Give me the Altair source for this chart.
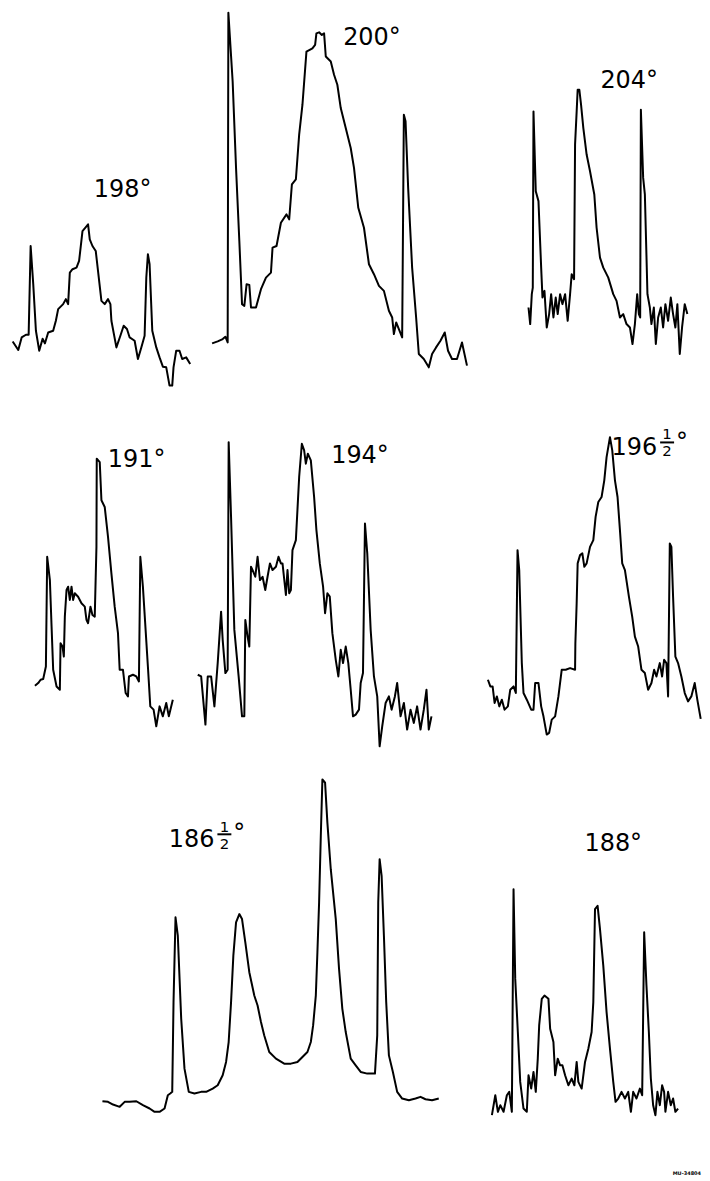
import altair as alt
import pandas as pd

# ---- traced spectra (image-pixel coordinates: x to the right, y downward) ----
T198_X = [12.7, 18.3, 21.7, 26, 28.7, 30.7, 33.3, 36, 39.3, 42.7, 45, 48.3, 53.3, 56, 58.3, 63.3, 66, 68.3, 70, 72.7, 76.7, 79.3, 82.7, 85, 88.3, 90, 92.7, 96, 101.7, 105, 108.3, 110.7, 111.7, 116.7, 120.7, 124, 127.3, 130, 135, 138.3, 141.7, 145, 146.7, 148.3, 150, 152.7, 156.7, 160, 163.3, 166.7, 170, 172.7, 174, 176.7, 180, 182.7, 186.7, 190.7]
T198_Y = [340.7, 349.3, 336.7, 334, 334, 245, 283, 330, 350, 338, 342.7, 331.7, 330, 320, 308.3, 303.3, 298.3, 303.3, 271.7, 268.3, 266.7, 260, 230, 227.3, 223.3, 238.3, 245, 250, 300, 303.3, 298.3, 303.3, 320, 346.7, 335, 325, 328.3, 336.7, 340, 358.3, 346.7, 335, 276.7, 253.3, 263.3, 330, 346.7, 356.7, 366, 366.7, 385, 385, 366.7, 350, 350, 358.3, 356.7, 363.3]

T200_X = [212.7, 218.3, 223.3, 226, 228.3, 229, 233.3, 236.7, 240, 242.7, 245, 247.3, 250, 251.7, 256.7, 261.7, 266.7, 271.7, 273.3, 277.3, 281.7, 287.3, 290, 292.7, 296.7, 300, 303.3, 307.3, 313.3, 316, 317.3, 320, 322.7, 325, 326.7, 331.7, 335, 338.3, 341.7, 346.7, 351.7, 355, 359.3, 365, 370, 375, 380, 385, 390, 393.3, 395, 397.3, 400, 403.3, 405, 406.7, 409.3, 413.3, 417.3, 420, 425, 430, 433.3, 437.3, 441.7, 446, 449.3, 453.3, 458.3, 463.3, 468.3]
T200_Y = [342.7, 340.7, 338.3, 336, 341.7, 11, 80, 166.7, 240, 303.3, 305, 283.3, 284, 306.7, 306.7, 288.3, 276.7, 271.7, 246.7, 245, 221.7, 213.3, 218.3, 183.3, 178.3, 133.3, 103.3, 50, 46.7, 43.3, 31.7, 30.7, 33.3, 31.7, 55, 60, 73.3, 83.3, 106.7, 126.7, 146.7, 166.7, 206.7, 226.7, 263.3, 273.3, 285, 290, 310, 316.7, 333.3, 321.7, 328.3, 336.7, 113.3, 120, 186.7, 266.7, 316.7, 353.3, 358.3, 366.7, 353.3, 346.7, 340, 331.7, 350, 358.3, 358.3, 341.7, 365]

T204_X = [530, 531.7, 533.3, 534.3, 535, 537.3, 540, 542.7, 544, 546, 548.3, 550.7, 552.7, 555, 557.3, 559.3, 561.7, 564, 566.7, 569.3, 571.7, 573.3, 575.7, 576.7, 578.3, 579.3, 581, 582.7, 585, 588.3, 591.7, 596, 598.3, 601.7, 605, 610, 615, 618.3, 621.7, 625, 628.3, 631.7, 634.3, 636.7, 639, 640.7, 642, 642.7, 645, 646.7, 649.3, 651.7, 653.3, 655.7, 657.7, 660, 662.7, 665, 667.3, 670, 672.7, 675, 677.3, 679.3, 681.7, 684, 686.7, 689.3]
T204_Y = [306.7, 323.3, 293.3, 286.7, 110, 190, 200, 266.7, 296.7, 290, 326.7, 313.3, 293.3, 316.7, 296.7, 313.3, 293.3, 303.3, 293.3, 320, 293.3, 273.3, 278.3, 143.3, 110, 88.3, 88.3, 103.3, 126.7, 153.3, 170, 193.3, 226.7, 256.7, 266.7, 276.7, 293.3, 300, 316.7, 313.3, 323.3, 326.7, 343.3, 323.3, 293.3, 313.3, 316.7, 108.3, 176.7, 193.3, 293.3, 306.7, 323.3, 306.7, 343.3, 316.7, 306.7, 326.7, 303.3, 320, 296.7, 313.3, 326.7, 303.3, 353.3, 326.7, 303.3, 313.3]

T191_X = [35, 38.3, 40.7, 43.3, 46, 47.3, 50, 51.7, 53.3, 56.7, 60, 60.7, 62.7, 64, 65, 66.7, 68.3, 70, 71.7, 73.3, 75, 78.3, 81.7, 85, 86.7, 88.3, 90.7, 92.7, 95, 96.7, 97, 100, 101.7, 105, 108.3, 111.7, 115, 118.3, 120, 123.3, 126, 128.3, 129.3, 133.3, 136.7, 139.3, 140.7, 143.3, 146, 148.3, 150.7, 154, 156.7, 160, 163.3, 166.7, 169.3, 173.3]
T191_Y = [686, 683.3, 680, 679.3, 666.7, 556.7, 580, 626.7, 670, 686.7, 690, 643.3, 646.7, 656.7, 616.7, 590, 586.7, 600, 586.7, 600, 593.3, 596.7, 603.3, 606.7, 620, 623.3, 606.7, 615, 616.7, 546.7, 458.3, 461.7, 500, 506.7, 536.7, 573.3, 606.7, 633.3, 670, 670, 693.3, 696.7, 676.7, 675, 676.7, 681.7, 556.7, 586.7, 630, 666.7, 706.7, 710, 726.7, 706.7, 716.7, 703.3, 716.7, 700]

T194_X = [198.3, 201.7, 206, 208.3, 211.7, 215, 218.3, 221.7, 223.3, 226, 228.3, 229.3, 231.7, 235, 239.3, 242.7, 245, 246, 248.3, 250, 251.7, 253.3, 256, 258.3, 260.7, 263.3, 266, 268.3, 270.7, 273.3, 276.7, 279.3, 281.7, 283.3, 286.7, 288.3, 290, 291.7, 293.3, 296.7, 300, 302.7, 305, 306.7, 308.7, 311.7, 315, 317.3, 320.7, 324, 326, 328.3, 330.7, 333.3, 336.7, 339.3, 341.7, 344, 346.7, 349.3, 351.7, 354, 356.7, 360, 361.7, 364, 366, 368.3, 371.7, 375, 378.3, 380.7, 383.3, 386.7, 390, 392.7, 396, 398.3, 401.7, 405, 408.3, 411.7, 415, 418.3, 421.7, 425, 427.7, 430, 432.7]
T194_Y = [675, 676.7, 725, 676.7, 676.7, 706.7, 663.3, 611.7, 640, 673.3, 670, 441.7, 516.7, 630, 676.7, 716.7, 716.7, 620, 636.7, 646.7, 566.7, 570, 576.7, 556.7, 580, 576.7, 590, 576.7, 563.3, 570, 566.7, 556.7, 563.3, 563.3, 595, 570, 593.3, 590, 550, 540, 476.7, 443.3, 450, 463.3, 453.3, 460, 496.7, 530, 563.3, 586.7, 613.3, 593.3, 596.7, 633.3, 660, 676.7, 650, 663.3, 646.7, 663.3, 690, 716.7, 715, 710, 683.3, 673.3, 523.3, 553.3, 630, 676.7, 696.7, 746.7, 726.7, 703.3, 696.7, 710, 696.7, 683.3, 716.7, 703.3, 730, 710, 723.3, 706.7, 730, 710, 690, 730, 716.7]

T196_X = [489.3, 491.7, 494, 496, 498.3, 500.7, 503.3, 506, 509.3, 511.7, 515, 517.3, 519, 520.7, 523.3, 525, 528.3, 532.7, 535, 536.7, 540, 542.7, 545, 548.3, 550.7, 553.3, 556.7, 560, 563.3, 567.3, 571.7, 576.7, 577, 578.3, 579.3, 581.7, 584, 586, 588.3, 591.7, 595, 597.3, 600, 603.3, 606, 608.3, 611.7, 614, 616.7, 619.3, 621.7, 624, 626.7, 630.7, 634, 636.7, 640, 643.3, 646.7, 650, 653.3, 656, 658.3, 661.7, 664, 666, 668.3, 670, 671.7, 673.3, 675, 677.3, 680, 683.3, 686.7, 690, 693.3, 696.7, 699.3, 702.7]
T196_Y = [680, 686.7, 686.7, 703.3, 696.7, 706.7, 700, 710, 706.7, 690, 686.7, 693.3, 550, 570, 663.3, 693.3, 700, 710, 710, 683.3, 683.3, 706.7, 716.7, 735, 733.3, 720, 716.7, 696.7, 670, 670, 668.3, 670, 643.3, 603.3, 563.3, 555, 553.3, 566.7, 563.3, 546.7, 540, 516.7, 501.7, 496.7, 480, 456.7, 436.7, 450, 480, 496.7, 530, 563.3, 570, 596.7, 616.7, 636.7, 646.7, 670, 673.3, 690, 683.3, 670, 676.7, 663.3, 676.7, 660, 663.3, 696.7, 543.3, 546.7, 596.7, 656.7, 663.3, 676.7, 693.3, 701.7, 696.7, 683.3, 700, 719.3]

T186_X = [102.7, 108.3, 113.3, 120, 125, 130, 136.7, 143.3, 150, 155, 160, 165, 168.3, 170.7, 172.7, 174, 176, 178.3, 181.7, 185, 189.3, 195, 201.7, 206.7, 213.3, 218.3, 223.3, 226.7, 229.3, 231.7, 234, 236.7, 240, 242.7, 246, 250, 255, 258.3, 261.7, 265, 270, 276.7, 285, 291.7, 298.3, 303.3, 308.3, 311.7, 314, 316.7, 318.3, 320, 321.7, 323.3, 326, 328.3, 331.7, 336.7, 340, 343.3, 346.7, 351.7, 356.7, 361.7, 368.3, 376, 378.3, 379.3, 380.7, 382.7, 385, 387.3, 390, 394, 398.3, 403.3, 410, 416.7, 421.7, 426.7, 433.3, 440]
T186_Y = [1102.7, 1103.3, 1106, 1108.3, 1103.3, 1103.3, 1102.7, 1106.7, 1110, 1113.3, 1113.3, 1110, 1096.7, 1095, 1093.3, 1003.3, 918.3, 936.7, 1020, 1070, 1093.3, 1095, 1093.3, 1093.3, 1090, 1086.7, 1076.7, 1063.3, 1043.3, 1003.3, 956.7, 923.3, 915, 920, 943.3, 973.3, 996.7, 1006.7, 1023.3, 1036.7, 1053.3, 1060, 1065, 1065, 1063.3, 1058.3, 1053.3, 1043.3, 1026.7, 996.7, 953.3, 903.3, 836.7, 780, 783.3, 823.3, 870, 920, 970, 1010, 1033.3, 1060, 1066.7, 1073.3, 1075, 1075, 1036.7, 903.3, 860, 876.7, 936.7, 1003.3, 1056.7, 1073.3, 1093.3, 1100, 1101.7, 1100, 1098.3, 1100.7, 1101.7, 1100]

T188_X = [493.3, 496.7, 499.3, 501.7, 505, 508.3, 510.7, 513.3, 515, 516.7, 519.3, 521.7, 525, 528.3, 530, 532.7, 535, 537.3, 539.3, 540.7, 543.3, 546, 550, 551.7, 555, 556.7, 559.3, 561.7, 564, 566.7, 570, 573.3, 576, 578.3, 580, 583.3, 586.7, 590, 593.3, 595, 596.7, 599.3, 601.7, 605, 608.3, 611.7, 615, 617.3, 620, 623.3, 626.7, 630, 632.7, 635, 638.3, 641.7, 644, 646, 648.3, 650.7, 652.7, 655, 657.3, 659.3, 661.7, 664, 666, 667.3, 670, 672.7, 675, 677.3, 680]
T188_Y = [1116.7, 1096.7, 1113.3, 1106.7, 1113.3, 1096.7, 1093.3, 1113.3, 890, 980, 1033.3, 1083.3, 1110, 1113.3, 1076.7, 1090, 1073.3, 1093.3, 1060, 1026.7, 1000, 996.7, 1000, 1030, 1043.3, 1076.7, 1060, 1066.7, 1066.7, 1076.7, 1086.7, 1080, 1086.7, 1063.3, 1083.3, 1090, 1063.3, 1050, 1033.3, 1003.3, 910, 906.7, 930, 966.7, 1013.3, 1050, 1083.3, 1103.3, 1100, 1093.3, 1100, 1093.3, 1113.3, 1093.3, 1100, 1090, 1096.7, 933.3, 986.7, 1033.3, 1080, 1106.7, 1116.7, 1093.3, 1106.7, 1086.7, 1093.3, 1113.3, 1093.3, 1106.7, 1100, 1113.3, 1110]

TRACES = {
    "198": (T198_X, T198_Y), "200": (T200_X, T200_Y), "204": (T204_X, T204_Y),
    "191": (T191_X, T191_Y), "194": (T194_X, T194_Y), "196.5": (T196_X, T196_Y),
    "186.5": (T186_X, T186_Y), "188": (T188_X, T188_Y),
}

# ---- labels ----
LABEL_TEXT = ["198°", "200°", "204°", "191°", "194°", "188°"]
LABEL_X = [123, 373, 631, 137, 361, 615]
LABEL_Y = [196, 43, 87, 467, 463, 852]

FRAC_MAIN_TEXT = ["196", "186"]
FRAC_MAIN_X = [659, 215]
FRAC_MAIN_Y = [455, 848]
FRAC_NUM_X = [669, 225]
FRAC_NUM_Y = [439, 833]
FRAC_DEN_Y = [456, 850]
FRAC_BAR_X1 = [662, 218]
FRAC_BAR_X2 = [676, 232]
FRAC_BAR_Y = [442, 835]
FRAC_DEG_X = [678, 234]
FRAC_DEG_Y = [450, 842]

rows = []
for name, (xs, ys) in TRACES.items():
    for i, (x, y) in enumerate(zip(xs, ys)):
        rows.append({"trace": name, "i": i, "x": x, "y": y})
df = pd.DataFrame(rows)

xs = alt.Scale(domain=[8, 702])
ys = alt.Scale(domain=[8, 1173], reverse=True)
X = lambda f: alt.X(f, type="quantitative", scale=xs, axis=None)
Y = lambda f: alt.Y(f, type="quantitative", scale=ys, axis=None)

lines = alt.Chart(df).mark_line(color="black", strokeWidth=2, strokeJoin="round").encode(
    x=X("x"), y=Y("y"), detail="trace:N", order="i:Q"
)

lab_df = pd.DataFrame({"t": LABEL_TEXT, "x": LABEL_X, "y": LABEL_Y})
labels = alt.Chart(lab_df).mark_text(
    font="DejaVu Sans", fontSize=24, align="center", baseline="alphabetic", color="black"
).encode(x=X("x"), y=Y("y"), text="t:N")

fm = pd.DataFrame({"t": FRAC_MAIN_TEXT, "x": FRAC_MAIN_X, "y": FRAC_MAIN_Y})
frac_main = alt.Chart(fm).mark_text(
    font="DejaVu Sans", fontSize=24, align="right", baseline="alphabetic", color="black"
).encode(x=X("x"), y=Y("y"), text="t:N")

fn = pd.DataFrame({"t": ["1", "1"], "x": FRAC_NUM_X, "y": FRAC_NUM_Y})
frac_num = alt.Chart(fn).mark_text(
    font="DejaVu Sans", fontSize=15, align="center", baseline="alphabetic", color="black"
).encode(x=X("x"), y=Y("y"), text="t:N")

fd = pd.DataFrame({"t": ["2", "2"], "x": FRAC_NUM_X, "y": FRAC_DEN_Y})
frac_den = alt.Chart(fd).mark_text(
    font="DejaVu Sans", fontSize=15, align="center", baseline="alphabetic", color="black"
).encode(x=X("x"), y=Y("y"), text="t:N")

fb = pd.DataFrame({"x": FRAC_BAR_X1, "x2": FRAC_BAR_X2, "y": FRAC_BAR_Y})
frac_bar = alt.Chart(fb).mark_rule(color="black", strokeWidth=2).encode(
    x=X("x"), x2="x2:Q", y=Y("y")
)

fg = pd.DataFrame({"t": ["°", "°"], "x": FRAC_DEG_X, "y": FRAC_DEG_Y})
frac_deg = alt.Chart(fg).mark_text(
    font="DejaVu Sans", fontSize=24, align="left", baseline="alphabetic", color="black"
).encode(x=X("x"), y=Y("y"), text="t:N")

code = alt.Chart(pd.DataFrame({"t": ["MU-34804"], "x": [703], "y": [1177]})).mark_text(
    font="DejaVu Sans", fontSize=5, fontWeight="bold", align="right", baseline="alphabetic", color="black"
).encode(x=X("x"), y=Y("y"), text="t:N")

chart = alt.layer(lines, labels, frac_main, frac_num, frac_den, frac_bar, frac_deg, code).properties(
    width=694, height=1165, padding=0, background="white"
).configure_view(stroke=None)

chart.save("out.html", embed_options={"renderer": "svg", "actions": False})
